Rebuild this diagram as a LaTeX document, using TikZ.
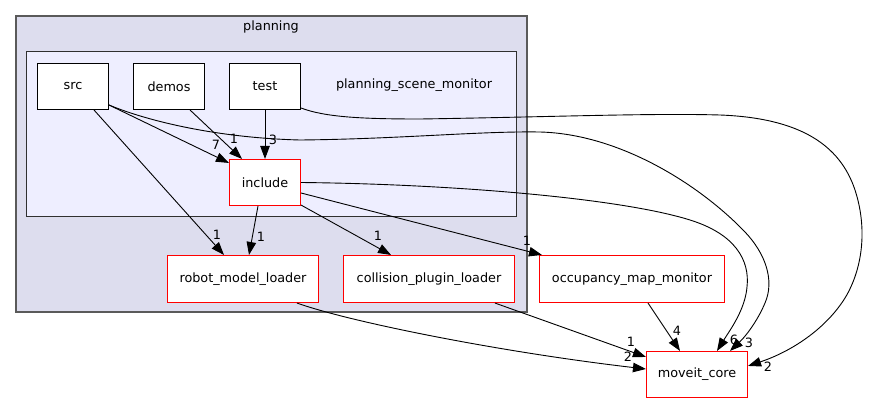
\documentclass[tikz,border=0pt]{standalone}
\usepackage{fontspec}
\setmainfont{DejaVu Sans}
\usetikzlibrary{arrows.meta,calc}

\definecolor{clusterouter}{HTML}{DDDDEE}
\definecolor{clusterinner}{HTML}{EEEEFF}
\definecolor{outerline}{HTML}{5A5A5A}
\definecolor{innerline}{HTML}{303030}
\definecolor{extborder}{HTML}{FF0000}

\begin{document}
\begin{tikzpicture}[x=1pt,y=-1pt,
  font=\fontsize{12.8}{15}\selectfont,
  dirnode/.style={rectangle, draw=black, fill=white, line width=1pt, inner sep=0pt, minimum width=71pt, minimum height=46pt},
  extnode/.style={rectangle, draw=extborder, fill=white, line width=1.1pt, inner sep=0pt, minimum height=46pt},
  dep/.style={-{Triangle[length=13pt,width=9.5pt]}, line width=0.9pt},
  cnt/.style={inner sep=0pt},
  caption/.style={inner sep=0pt}
]
\useasboundingbox (0,0) rectangle (869,404);
\fill[white] (0,0) rectangle (869,404);

% directory clusters
\draw[fill=clusterouter, draw=outerline, line width=1.2pt] (16,16) rectangle (527,312);
\node[caption] (planninglbl) at (271,27) {planning};
\draw[fill=clusterinner, draw=innerline, line width=1pt] (26.5,51.5) rectangle (516.5,216.5);
\node[caption] (psmlbl) at (414,85) {planning\_scene\_monitor};

% directories
\node[dirnode] (src) at (73,86.5) {src};
\node[dirnode] (demos) at (169,86.5) {demos};
\node[dirnode] (test) at (265,86.5) {test};
\node[extnode, minimum width=71pt] (include) at (265,182.5) {include};
\node[extnode, minimum width=151pt, minimum height=47pt] (rml) at (243,279) {robot\_model\_loader};
\node[extnode, minimum width=171pt, minimum height=47pt] (cpl) at (429,279) {collision\_plugin\_loader};
\node[extnode, minimum width=185pt, minimum height=47pt] (omm) at (632,279) {occupancy\_map\_monitor};
\node[extnode, minimum width=101pt] (core) at (697,374.5) {moveit\_core};

% dependencies inside planning_scene_monitor
\draw[dep] ($(src.south east)+(0,-5)$) -- ($(include.north west)+(0,4)$);
\node[cnt] (c1) at (216,145) {7};
\draw[dep] ($(demos.south)+(21,0)$) -- ($(include.north)+(-23,0)$);
\node[cnt] (c2) at (234,139) {1};
\draw[dep] (test.south) -- (include.north);
\node[cnt] (c3) at (273,140) {3};

% dependencies to sibling directories
\draw[dep] ($(src.south)+(21,0)$) -- ($(rml.north)+(-19,0)$);
\node[cnt] (c4) at (217,235) {1};
\draw[dep] ($(include.south)+(-7,0)$) -- ($(rml.north)+(6,0)$);
\node[cnt] (c5) at (261,237) {1};
\draw[dep] ($(include.south east)+(0,-1)$) -- ($(cpl.north)+(-38,0)$);
\node[cnt] (c6) at (378,236) {1};
\draw[dep] ($(include.east)+(0,10.5)$) -- ($(omm.north west)+(3,0)$);
\node[cnt] (c7) at (527,241) {1};

% long dependencies to moveit_core
\draw[dep] (include.east) .. controls (450,184) and (620,198) .. (690,220)
  .. controls (735,234) and (750,260) .. (747,287)
  .. controls (745,310) and (730,330) .. ($(core.north)+(20,0)$);
\node[cnt] (c8) at (734,340) {6};
\draw[dep] ($(src.south east)+(0,-5)$) .. controls (150,122) and (220,138) .. (300,140)
  .. controls (400,139) and (480,131) .. (540,132)
  .. controls (620,134) and (700,185) .. (745,232)
  .. controls (765,253) and (775,280) .. (765,303)
  .. controls (757,322) and (745,337) .. ($(core.north)+(33,0)$);
\node[cnt] (c9) at (749,343) {3};
\draw[dep] ($(test.south east)+(0,-2)$) .. controls (325,117) and (360,119) .. (420,119)
  .. controls (550,117) and (650,113) .. (720,115)
  .. controls (800,118) and (840,145) .. (855,190)
  .. controls (868,230) and (862,270) .. (845,298)
  .. controls (825,330) and (790,352) .. ($(core.north east)+(0,15)$);
\node[cnt] (c10) at (768,367) {2};
\draw[dep] ($(rml.south)+(54,0)$) .. controls (350,322) and (500,352) .. ($(core.west)+(0,-5.5)$);
\node[cnt] (c11) at (628,357) {2};
\draw[dep] ($(cpl.south)+(66,0)$) -- ($(core.north west)+(0,6)$);
\node[cnt] (c12) at (631,342) {1};
\draw[dep] ($(omm.south)+(16,0)$) -- ($(core.north)+(-17,0)$);
\node[cnt] (c13) at (677,331) {4};
\end{tikzpicture}
\end{document}
